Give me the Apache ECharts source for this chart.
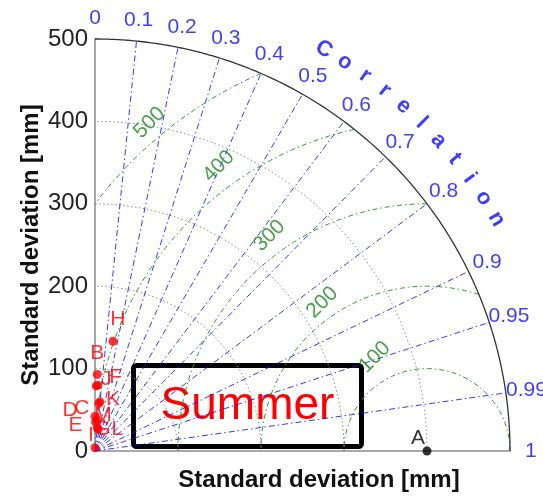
<!DOCTYPE html>
<html><head><meta charset="utf-8">
<script src="https://cdn.jsdelivr.net/npm/echarts/dist/echarts.min.js"></script>
<style>html,body{margin:0;padding:0;background:#fff}#c{width:543px;height:497px}</style>
</head><body><div id="c"></div>
<script>
// ---- data ----
const stdTicks = [0, 100, 200, 300, 400, 500];
const corrTicks = [0, 0.1, 0.2, 0.3, 0.4, 0.5, 0.6, 0.7, 0.8, 0.9, 0.95, 0.99, 1];
const corrTickLabels = ['0', '0.1', '0.2', '0.3', '0.4', '0.5', '0.6', '0.7', '0.8', '0.9', '0.95', '0.99', '1'];
const rmsLevels = [100, 200, 300, 400, 500];
const refStd = 400;
const modelNames = ['A', 'B', 'C', 'D', 'E', 'F', 'G', 'H', 'I', 'J', 'K', 'L', 'M'];
const modelStd  = [400, 93, 58, 42, 35, 80, 28, 135, 4, 79, 60, 27, 38];
const modelCorr = [1, 0.03, 0.08, 0.0, 0.02, 0.04, 0.1, 0.16, 0.0, 0.02, 0.1, 0.15, 0.06];
const corrTitle = 'Correlation';
const axisTitle = 'Standard deviation [mm]';
const boxText = 'Summer';

// ---- layout / style (not data) ----
const maxStd = 500;
const labelNudge = {A:[-9,-13], B:[0,-21], C:[-17,5], D:[-25,-6], E:[-20,3], F:[18,-8], G:[5,1],
                    H:[5,-22], I:[-4,-13], J:[10,-7], K:[13,-3], L:[19,0], M:[6,-5]};
const rmsLabelAngle = [119, 125, 126, 126, 130];
const rmsLabelPad = [30, 20, 23, 27, 20];
const FONT = '"Liberation Sans", Arial, sans-serif';

const toXY = (s, c) => [s * c, s * Math.sqrt(Math.max(0, 1 - c * c))];
const arc = (r, n) => { const p = []; for (let i = 0; i <= n; i++) { const a = Math.PI / 2 * i / n; p.push([r * Math.cos(a), r * Math.sin(a)]); } return p; };

const series = [];
const baseLine = {type: 'line', showSymbol: false, symbol: 'none', silent: true, animation: false, clip: false};

// std arcs (dotted gray)
stdTicks.filter(s => s > 0 && s < maxStd).forEach(s => series.push(Object.assign({}, baseLine, {
  data: arc(s, 200), z: 1, lineStyle: {color: '#8c8c8c', width: 1, type: [1.5, 2.5]}})));

// correlation rays
corrTicks.filter(c => c > 0 && c < 1).forEach(c => series.push(Object.assign({}, baseLine, {
  data: [[0, 0], toXY(maxStd, c)], z: 2, lineStyle: {color: 'rgba(20,20,255,0.85)', width: 1, type: [6, 3, 1.5, 3]}})));

// RMS circles around the reference point
rmsLevels.forEach(r => {
  const pts = [];
  const c0 = (maxStd * maxStd - refStd * refStd - r * r) / (2 * refStd * r);
  const t0 = c0 >= 1 ? 0 : Math.acos(Math.max(-1, c0));
  const t1 = r > refStd ? Math.acos(-refStd / r) : Math.PI;
  const n = 150;
  for (let i = 0; i <= n; i++) {
    const t = t0 + (t1 - t0) * i / n;
    pts.push([refStd + r * Math.cos(t), r * Math.sin(t)]);
  }
  series.push(Object.assign({}, baseLine, {data: pts, z: 2,
    lineStyle: {color: '#2a9a2a', width: 1, type: [5, 3, 1.5, 3]}}));
});

// outer arc
series.push(Object.assign({}, baseLine, {data: arc(maxStd, 300), z: 3, lineStyle: {color: '#333', width: 1.3}}));

// correlation tick labels
series.push({type: 'scatter', silent: true, animation: false, clip: false, symbolSize: 0, z: 5,
  data: corrTicks.map((c, i) => ({name: corrTickLabels[i], value: toXY(maxStd * 1.05, c)})),
  label: {show: true, position: 'inside', formatter: '{b}', color: '#0c0cff', fontSize: 21, fontFamily: FONT}});

// "Correlation" curved title
const letters = corrTitle.split('');
const a0 = 60.5, a1 = 30.2;
series.push({type: 'scatter', silent: true, animation: false, clip: false, symbolSize: 0, z: 5,
  data: letters.map((ch, i) => {
    const a = a0 + (a1 - a0) * i / (letters.length - 1);
    const rad = a * Math.PI / 180;
    return {name: ch, value: [maxStd * 1.12 * Math.cos(rad), maxStd * 1.12 * Math.sin(rad)], label: {rotate: a - 90}};
  }),
  label: {show: true, position: 'inside', formatter: '{b}', color: '#0c0cff', fontSize: 22, fontWeight: 'bold', fontFamily: FONT}});

// RMS labels
series.push({type: 'scatter', silent: true, animation: false, clip: false, symbolSize: 0, z: 5,
  data: rmsLevels.map((r, i) => {
    const ang = rmsLabelAngle[i] * Math.PI / 180, rr = r + rmsLabelPad[i];
    return {name: String(r), value: [refStd + rr * Math.cos(ang), rr * Math.sin(ang)]};
  }),
  label: {show: true, position: 'inside', formatter: '{b}', rotate: 45, color: '#1a8a1a', fontSize: 21, fontFamily: FONT}});

// model points
series.push({type: 'scatter', silent: true, animation: false, clip: false, symbolSize: 9, z: 10,
  itemStyle: {color: '#ff0000'},
  data: modelNames.map((nm, i) => ({
    name: nm, value: toXY(modelStd[i], modelCorr[i]),
    itemStyle: {color: nm === 'A' ? '#000' : '#ff0000'},
    label: {offset: labelNudge[nm] || [0, -18], color: nm === 'A' ? '#000' : '#ff0000'}
  })),
  label: {show: true, position: 'inside', formatter: '{b}', fontSize: 21, fontFamily: FONT}});

const chart = echarts.init(document.getElementById('c'));
chart.setOption({
  animation: false,
  backgroundColor: '#fff',
  grid: {left: 95, top: 39, width: 415, height: 415},
  xAxis: {type: 'value', min: 0, max: maxStd, interval: 100,
    axisLine: {show: true, lineStyle: {color: '#a8a8a8', width: 2}}, axisTick: {show: false},
    axisLabel: {show: false}, splitLine: {show: false},
    name: axisTitle, nameLocation: 'middle', nameGap: 17, nameMoveOverlap: false,
    nameTextStyle: {fontSize: 24, fontWeight: 'bold', color: '#111', fontFamily: FONT, padding: [0, 0, 0, 33]}},
  yAxis: {type: 'value', min: 0, max: maxStd, interval: 100,
    axisLine: {show: true, lineStyle: {color: '#a8a8a8', width: 2}}, axisTick: {show: false},
    axisLabel: {show: true, margin: 7, fontSize: 24, color: '#222', fontFamily: FONT}, splitLine: {show: false},
    name: axisTitle, nameLocation: 'middle', nameGap: 52, nameRotate: 90, nameMoveOverlap: false,
    nameTextStyle: {fontSize: 24, fontWeight: 'bold', color: '#111', fontFamily: FONT}},
  series: series,
  graphic: [{
    type: 'group', left: 131, top: 363, z: 100,
    children: [
      {type: 'rect', shape: {x: 0, y: 0, width: 228, height: 81, r: 3}, style: {fill: '#fff', stroke: '#000', lineWidth: 5}},
      {type: 'text', x: 114, y: 41, style: {text: boxText, fill: '#ff0000', font: '46px ' + FONT, align: 'center', verticalAlign: 'middle'}}
    ]
  }]
});
</script>
</body></html>
